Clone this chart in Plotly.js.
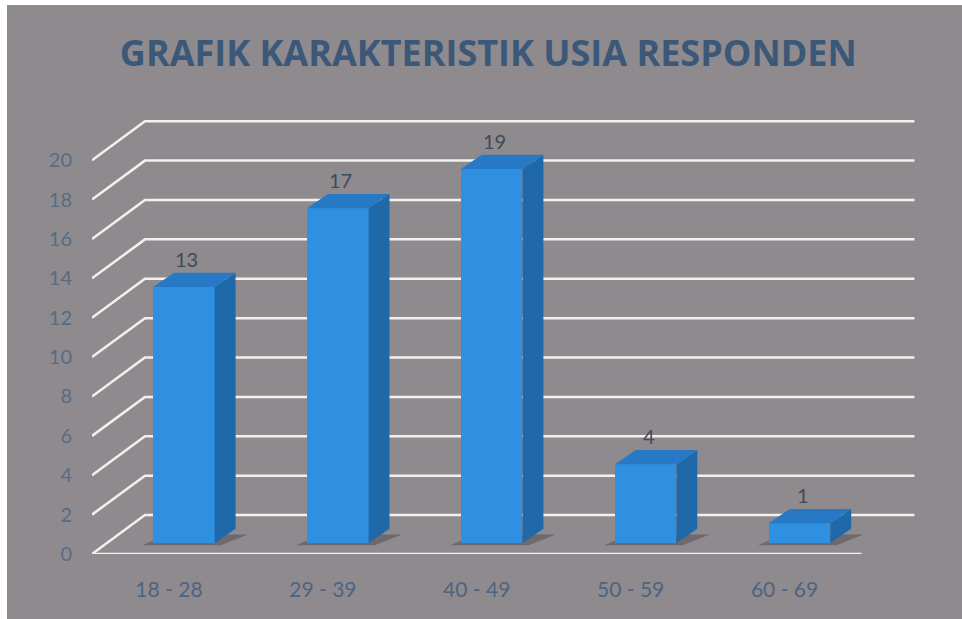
<!DOCTYPE html>
<html>
<head>
<meta charset="utf-8">
<script src="https://cdn.plot.ly/plotly-3.0.1.min.js"></script>
<style>
  html, body { margin: 0; padding: 0; background: #ffffff; width: 962px; height: 619px; overflow: hidden; }
  #chart { position: absolute; left: 7px; top: 5px; width: 955px; height: 614px; }
</style>
</head>
<body>
<div id="chart"></div>
<script>
// ---- data ----
const categories = ['18 - 28', '29 - 39', '40 - 49', '50 - 59', '60 - 69'];
const values = [13, 17, 19, 4, 1];
const yTickValues = [0, 2, 4, 6, 8, 10, 12, 14, 16, 18, 20];
const yTickLabels = ['0', '2', '4', '6', '8', '10', '12', '14', '16', '18', '20'];
const chartTitle = 'GRAFIK KARAKTERISTIK USIA RESPONDEN';

// ---- 3D projection settings (axis units) ----
const floorLeft = -0.5, floorRight = 4.5;
const wallDX = 0.344, wallDY = 1.98;     // depth of the floor / back wall
const barShiftX = 0.097, barShiftY = 0.56; // bar front face sits inside the floor
const barWidth = 0.40, barDX = 0.136, barDY = 0.72;

const xIdx = categories.map((c, i) => i);

const gridColor = '#f1f1f1';
const shapes = [];
// side wall diagonals + back wall lines
yTickValues.forEach(t => {
  const bx = floorLeft + wallDX, by = t + wallDY;
  shapes.push({type: 'path', xref: 'x', yref: 'y', layer: 'below',
    path: `M ${floorLeft},${t} L ${bx},${by} L ${floorRight + wallDX},${by}`,
    line: {color: gridColor, width: 2.5}});
});
// front floor edge
shapes.push({type: 'line', xref: 'x', yref: 'y', layer: 'below',
  x0: floorLeft, y0: 0, x1: floorRight, y1: 0, line: {color: gridColor, width: 2.5}});

// floor shadows under bars
xIdx.forEach(i => {
  const x0 = i + barShiftX - barWidth / 2, x1 = x0 + barWidth, yb = barShiftY;
  shapes.push({type: 'path', xref: 'x', yref: 'y', layer: 'below',
    path: `M ${x0 - 0.07},${yb - 0.12} L ${x1 + 0.04},${yb - 0.12} L ${x1 + barDX + 0.08},${yb + barDY * 0.6} L ${x0 + barDX - 0.04},${yb + barDY * 0.6} Z`,
    fillcolor: 'rgba(60,55,60,0.4)', line: {width: 0}});
});

const traces = [];
// front faces
traces.push({
  type: 'bar', x: xIdx.map(i => i + barShiftX), y: values, base: barShiftY,
  width: barWidth, marker: {color: '#2f90e2', line: {width: 0}},
  hoverinfo: 'skip', showlegend: false
});
// side and top faces
xIdx.forEach(i => {
  const v = values[i];
  const x0 = i + barShiftX - barWidth / 2, x1 = x0 + barWidth;
  const yb = barShiftY, yt = barShiftY + v;
  traces.push({type: 'scatter', mode: 'lines', fill: 'toself', fillcolor: '#1f68a9',
    x: [x1, x1 + barDX, x1 + barDX, x1, x1], y: [yb, yb + barDY, yt + barDY, yt, yb],
    line: {width: 0, color: '#1f68a9'}, hoverinfo: 'skip', showlegend: false});
  traces.push({type: 'scatter', mode: 'lines', fill: 'toself', fillcolor: '#2779c6',
    x: [x0, x0 + barDX, x1 + barDX, x1, x0], y: [yt, yt + barDY, yt + barDY, yt, yt],
    line: {width: 0, color: '#2779c6'}, hoverinfo: 'skip', showlegend: false});
});

const annotations = xIdx.map(i => ({
  x: i + barShiftX + 0.02, y: values[i] + barShiftY + barDY, xref: 'x', yref: 'y',
  text: String(values[i]), showarrow: false, yanchor: 'bottom', xanchor: 'center',
  font: {family: 'Lato, Open Sans, sans-serif', size: 20, color: '#3e4b5c'}
}));

const layout = {
  width: 955, height: 614,
  paper_bgcolor: '#8f8a8e', plot_bgcolor: 'rgba(0,0,0,0)',
  margin: {l: 85, r: 46, t: 106, b: 65},
  title: {text: chartTitle, x: 0.504, xref: 'container', xanchor: 'center',
    y: 0.921, yref: 'container', yanchor: 'middle',
    font: {family: 'Open Sans, sans-serif', size: 36, weight: 700, color: '#3b5878'}},
  xaxis: {range: [floorLeft, floorRight + wallDX + 0.01], tickvals: xIdx, ticktext: categories,
    showgrid: false, zeroline: false, showline: false, ticks: 'outside', ticklen: 17,
    tickcolor: 'rgba(0,0,0,0)', fixedrange: true,
    tickfont: {family: 'Lato, Open Sans, sans-serif', size: 21, color: '#4d6480'}},
  yaxis: {range: [0, 22.5], tickvals: yTickValues, ticktext: yTickLabels,
    showgrid: false, zeroline: false, showline: false, ticks: 'outside', ticklen: 15,
    tickcolor: 'rgba(0,0,0,0)', fixedrange: true,
    tickfont: {family: 'Lato, Open Sans, sans-serif', size: 20, color: '#566c86'}},
  shapes: shapes, annotations: annotations, showlegend: false, bargap: 0
};

Plotly.newPlot('chart', traces, layout, {displayModeBar: false, staticPlot: true});
</script>
</body>
</html>
